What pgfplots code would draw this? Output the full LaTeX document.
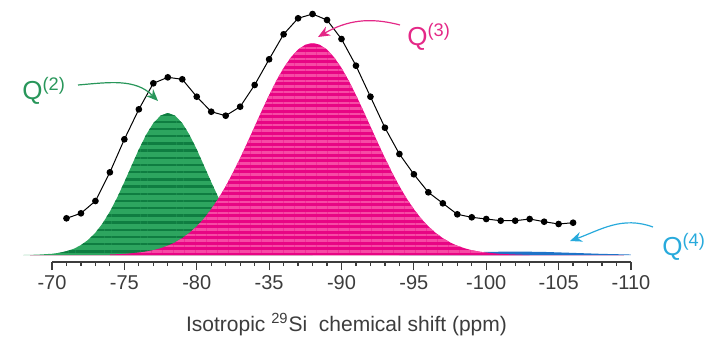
\documentclass[border=0pt]{standalone}
\usepackage{fontspec}
\setmainfont{Liberation Sans}
\usepackage{pgfplots}
\pgfplotsset{compat=1.18}
\usetikzlibrary{patterns.meta,arrows.meta}
\definecolor{gdark}{RGB}{15,125,65}
\definecolor{glight}{RGB}{45,165,95}
\definecolor{pdark}{RGB}{232,5,132}
\definecolor{plight}{RGB}{246,75,165}
\definecolor{bdark}{RGB}{30,115,200}
\definecolor{qgreen}{RGB}{40,150,90}
\definecolor{qpink}{RGB}{228,40,135}
\definecolor{qcyan}{RGB}{40,170,220}
\definecolor{axisgray}{RGB}{60,60,60}
\definecolor{textgray}{RGB}{60,60,60}
\begin{document}
\begin{tikzpicture}
\path[use as bounding box] (-26pt,-41.5pt) rectangle (329.5pt,131pt);
\begin{axis}[
  at={(0,0)}, anchor=south west,
  scale only axis, width=289.5pt, height=131pt,
  xmin=-110, xmax=-70, ymin=-7, ymax=255, x dir=reverse,
  axis x line*=bottom, axis y line=none,
  x axis line style={-, line width=0.7pt, color=axisgray},
  xtick={-110,-105,-100,-95,-90,-85,-80,-75,-70},
  xticklabels={{-110},{-105},{-100},{-95},{-90},{-35},{-80},{-75},{-70}},
  minor x tick num=4,
  tick align=outside,
  major tick length=4pt, minor tick length=2pt,
  every tick/.style={axisgray, line width=0.6pt},
  xticklabel style={font=\fontsize{10}{12}\selectfont, text=textgray, yshift=0.8pt},
  xlabel={Isotropic \textsuperscript{29}Si\ \ chemical shift (ppm)},
  xlabel style={font=\fontsize{10.5}{12}\selectfont, text=textgray, at={(axis description cs:0.5,0)}, anchor=center, yshift=-31.5pt, xshift=2.5pt},
  clip=false,
]
% baseline
\addplot[draw={rgb,255:red,240;green,190;blue,215}, line width=0.5pt] coordinates {(-68.5,0) (-109.5,0)};
% Q4 (blue)
\addplot[draw=none, fill=bdark] coordinates {
(-94,0) (-94,0.47) (-96,1.14) (-98,2.12) (-100,3.09) (-102,3.5) (-104,3.09) (-106,2.12) (-108,1.14) (-110,0.47) (-110,0)} \closedcycle;
% Q2 (green)
\addplot[draw=none, fill=glight, postaction={pattern={Lines[angle=0,distance=3.6pt,line width=1.2pt]}, pattern color=gdark}] coordinates {
(-68,0) (-69,0.36) (-70,1.25) (-70.5,2.2) (-71,3.8) (-71.5,6.2) (-72,9.9) (-72.5,15.2) (-73,22.4) (-73.5,31.7) (-74,43.5) (-74.5,57.4) (-75,73.0) (-75.5,89.4) (-76,105.6) (-76.5,120.2) (-77,131.9) (-77.5,139.4) (-78,142)
(-78.5,139.4) (-79,131.9) (-79.5,120.2) (-80,105.6) (-80.5,89.4) (-81,73.0) (-81.5,57.4) (-82,43.5) (-82.5,31.7) (-83,22.4) (-83.5,15.2) (-84,9.9) (-84.5,6.2) (-85,3.8) (-85.5,2.2) (-86,1.25) (-87,0.36) (-88,0)} \closedcycle;
% Q3 (pink)
\addplot[draw=none, fill=pdark, postaction={pattern={Lines[angle=0,distance=2.75pt,line width=1.2pt]}, pattern color=plight}] coordinates {
(-74,0) (-74,0.5) (-75,1.1) (-76,2.4) (-76.5,3.4) (-77,4.8) (-77.5,6.8) (-78,9.3) (-78.5,12.6) (-79,16.9) (-79.5,22.2) (-80,28.7) (-80.5,36.5) (-81,45.9) (-81.5,56.6) (-82,68.8) (-82.5,82.4) (-83,97.1) (-83.5,112.6) (-84,128.6) (-84.5,144.6) (-85,160.0) (-85.5,174.4) (-86,187.1) (-86.5,197.6) (-87,205.5) (-87.5,210.3) (-88,212)
(-88.5,210.3) (-89,205.5) (-89.5,197.6) (-90,187.1) (-90.5,174.4) (-91,160.0) (-91.5,144.6) (-92,128.6) (-92.5,112.6) (-93,97.1) (-93.5,82.4) (-94,68.8) (-94.5,56.6) (-95,45.9) (-95.5,36.5) (-96,28.7) (-96.5,22.2) (-97,16.9) (-97.5,12.6) (-98,9.3) (-98.5,6.8) (-99,4.8) (-99.5,3.4) (-100,2.4) (-101,1.1) (-102,0.5) (-103,0)} \closedcycle;
% experimental data
\addplot[black, line width=0.5pt, mark=*, mark size=1.4pt, mark options={fill=black}] coordinates {
(-71,36.7) (-72,41.7) (-73,54) (-74,82.7) (-75,115.7) (-76,145.7) (-77,171.7) (-78,177.7) (-79,175.7) (-80,158.3)
(-81,143.3) (-82,139.3) (-83,148.3) (-84,170) (-85,195.7) (-86,220.7) (-87,236.7) (-88,241) (-89,235) (-90,216)
(-91,189.3) (-92,158.3) (-93,127.3) (-94,101) (-95,80.7) (-96,62.7) (-97,51.7) (-98,40.7) (-99,37.7) (-100,36)
(-101,34.3) (-102,34.3) (-103,36) (-104,33.3) (-105,31) (-106,32.3)};
\end{axis}
% annotations
\node[anchor=base west, inner sep=0pt, text=qgreen, font=\fontsize{13}{15}\selectfont] at (-15pt,81.5pt) {Q\textsuperscript{(2)}};
\draw[qgreen, line width=0.6pt, -{Stealth[length=6pt,width=5pt]}] (13pt,88.5pt) to[out=5,in=135] (53pt,80.5pt);
\node[anchor=base west, inner sep=0pt, text=qpink, font=\fontsize{13}{15}\selectfont] at (177.5pt,108.5pt) {Q\textsuperscript{(3)}};
\draw[qpink, line width=0.6pt, -{Stealth[length=6pt,width=5pt]}] (174pt,118.5pt) to[out=165,in=30] (133pt,112.5pt);
\node[anchor=base west, inner sep=0pt, text=qcyan, font=\fontsize{13}{15}\selectfont] at (305pt,3.5pt) {Q\textsuperscript{(4)}};
\draw[qcyan, line width=0.6pt, -{Stealth[length=6pt,width=5pt]}] (300.5pt,17.5pt) to[out=160,in=20] (259pt,10.5pt);
\end{tikzpicture}
\end{document}
